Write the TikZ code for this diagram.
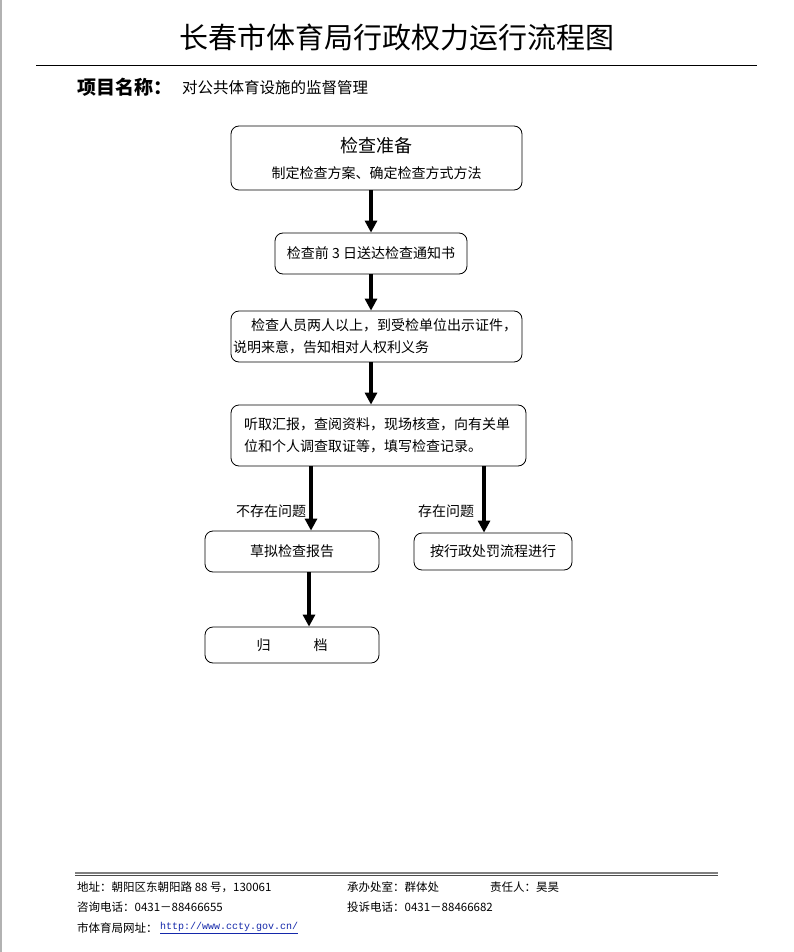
\documentclass[tikz,border=0pt]{standalone}
\usepackage{fontspec}
\setmainfont{Noto Sans CJK SC}
\newfontfamily\urlfont{Liberation Mono}
\usetikzlibrary{arrows.meta}
\definecolor{linkblue}{RGB}{20,40,170}
\begin{document}
\begin{tikzpicture}[x=1pt,y=-1pt,
  box/.style={draw,rounded corners=8pt,line width=0.8pt,inner sep=0pt,font=\fontsize{14}{16}\selectfont},
  flow/.style={line width=3.4pt,-{Triangle[length=12pt,width=12pt]}},
  lbl/.style={font=\fontsize{14}{16}\selectfont,inner sep=0pt},
  foot/.style={font=\fontsize{11.5}{13}\selectfont,inner sep=0pt,anchor=west}]
\useasboundingbox (0,0) rectangle (794,952);
\fill[white] (0,0) rectangle (794,952);
\draw[gray!60,line width=2pt] (1,0) -- (1,952);
% header
\node[font=\fontsize{29}{32}\selectfont,inner sep=0pt] (title) at (397,37) {长春市体育局行政权力运行流程图};
\draw[line width=0.8pt] (36,65) -- (757,65);
\node[anchor=west,inner sep=0pt,font=\fontsize{19}{21}\selectfont\bfseries] (plabel) at (77,87) {项目名称：};
\node[anchor=west,inner sep=0pt,font=\fontsize{15.5}{17}\selectfont] (pname) at (182,88) {对公共体育设施的监督管理};
% boxes
\node[box,minimum width=291pt,minimum height=64pt,align=center,font=\fontsize{14}{26}\selectfont] (b1) at (376.5,158)
  {{\fontsize{18}{26}\selectfont 检查准备}\\制定检查方案、确定检查方式方法};
\node[box,minimum width=192pt,minimum height=41pt] (b2) at (371,253.5) {检查前 3 日送达检查通知书};
\node[box,minimum width=291pt,minimum height=51pt,text width=287pt,align=left,inner xsep=2pt,font=\fontsize{14}{22}\selectfont] (b3) at (376.5,336.5)
  {\hspace*{18pt}检查人员两人以上，到受检单位出示证件，\\说明来意，告知相对人权利义务};
\node[box,minimum width=295pt,minimum height=61pt,text width=269pt,align=left,inner xsep=13pt,font=\fontsize{14}{22}\selectfont] (b4) at (378.5,435.5)
  {听取汇报，查阅资料，现场核查，向有关单\\位和个人调查取证等，填写检查记录。};
\node[box,minimum width=174pt,minimum height=41pt] (b5) at (292,551.5) {草拟检查报告};
\node[box,minimum width=158pt,minimum height=37pt] (b6) at (493,551.5) {按行政处罚流程进行};
\node[box,minimum width=174pt,minimum height=36pt] (b7) at (292,645) {归\hspace{43pt}档};
% arrow columns
\coordinate (xm) at (371,0);
\coordinate (xl) at (311,0);
\coordinate (xr) at (484,0);
\coordinate (xb) at (309,0);
\draw[flow] (b1.south -| xm) -- (b2.north -| xm);
\draw[flow] (b2.south -| xm) -- (b3.north -| xm);
\draw[flow] (b3.south -| xm) -- (b4.north -| xm);
\draw[flow] (b4.south -| xl) -- (b5.north -| xl);
\draw[flow] (b4.south -| xr) -- (b6.north -| xr);
\draw[flow] (b5.south -| xb) -- (b7.north -| xb);
\node[lbl] (l1) at (271,511) {不存在问题};
\node[lbl] (l2) at (446,511) {存在问题};
% footer
\draw[gray,line width=1.6pt] (75,873) -- (718,873);
\draw[black!70,line width=0.5pt] (75,875.3) -- (718,875.3);
\node[foot] (f1) at (77,887) {地址：朝阳区东朝阳路 88 号，130061};
\node[foot] (f2) at (347,887) {承办处室：群体处};
\node[foot] (f3) at (490,887) {责任人：昊昊};
\node[foot] (f4) at (77,907) {咨询电话：0431－88466655};
\node[foot] (f5) at (347,907) {投诉电话：0431－88466682};
\node[foot] (f6) at (77,928) {市体育局网址：};
\node[foot,font=\urlfont\fontsize{10}{12}\selectfont,text=linkblue] (f7) at (160,928) {\underline{http://www.ccty.gov.cn/}};
\end{tikzpicture}
\end{document}
